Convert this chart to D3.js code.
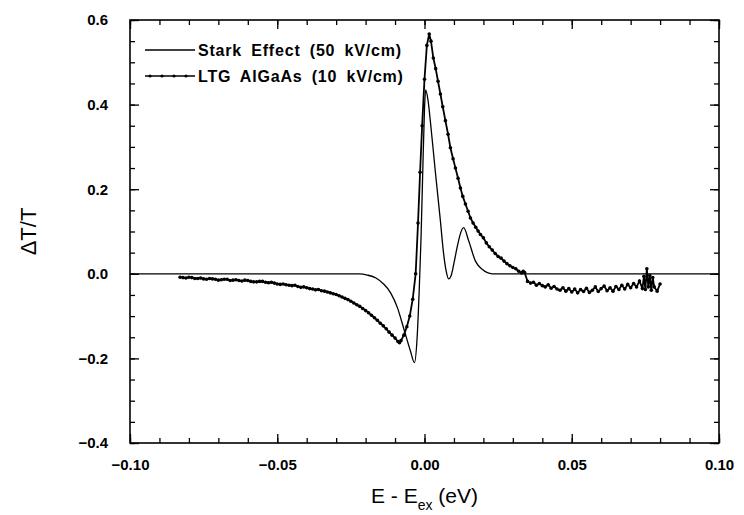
<!DOCTYPE html>
<html>
  <head>
    <meta charset="utf-8">
    <title>Delta T/T spectrum</title>
    <script src="https://d3js.org/d3.v7.min.js"></script>
    <style>
      body { margin: 0; background: #fff; }
      text { font-family: "Liberation Sans", Arial, sans-serif; fill: #000; }
      .tick-label { font-weight: bold; font-size: 15px; }
    </style>
  </head>
  <body>
    <div id="vis"></div>
    <script>
      // Stark effect (50 kV/cm), thin line
      const starkX = [-0.100, -0.030, -0.022, -0.0194, -0.0165, -0.0139, -0.0115, -0.0092, -0.0071, -0.0048,
                      -0.0034, -0.0025, -0.0018, -0.0012, -0.0006, 0.0000, 0.0004, 0.0012, 0.0020, 0.0037,
                      0.0054, 0.0065, 0.0074, 0.0082, 0.0090, 0.0100, 0.0110, 0.0122, 0.0133, 0.0150,
                      0.0173, 0.0197, 0.0230, 0.100];
      const starkY = [0, 0, 0, -0.003, -0.010, -0.024, -0.045, -0.080, -0.128, -0.182,
                      -0.210, -0.150, -0.040, 0.080, 0.240, 0.390, 0.435, 0.410, 0.360, 0.240,
                      0.125, 0.047, 0.005, -0.012, -0.005, 0.025, 0.060, 0.095, 0.109, 0.078,
                      0.030, 0.010, 0, 0];

      // LTG AlGaAs (10 kV/cm), line with dots
      const ltgX = [-0.083, -0.082, -0.081, -0.080, -0.079, -0.078, -0.077, -0.076, -0.075, -0.074,
                    -0.073, -0.072, -0.071, -0.070, -0.069, -0.068, -0.067, -0.066, -0.065, -0.064,
                    -0.063, -0.062, -0.061, -0.060, -0.059, -0.058, -0.057, -0.056, -0.055, -0.054,
                    -0.053, -0.052, -0.051, -0.050, -0.049, -0.048, -0.047, -0.046, -0.045, -0.044,
                    -0.043, -0.042, -0.041, -0.040, -0.039, -0.038, -0.037, -0.036, -0.035, -0.034,
                    -0.033, -0.032, -0.031, -0.030, -0.029, -0.028, -0.027, -0.026, -0.025, -0.024,
                    -0.023, -0.022, -0.021, -0.020, -0.019, -0.018, -0.017, -0.016, -0.015, -0.014,
                    -0.013, -0.012, -0.011, -0.010, -0.009, -0.0085,
                    -0.008, -0.007, -0.006, -0.005, -0.004, -0.003, -0.0022, -0.0015, -0.0008, 0.0000,
                    0.0008, 0.0016, 0.0022, 0.0030, 0.0038, 0.0046, 0.0054, 0.0062, 0.0071, 0.0080,
                    0.0088, 0.0097, 0.0105, 0.0114, 0.0122, 0.0130, 0.0139, 0.0148, 0.0156, 0.0165,
                    0.0174, 0.0182, 0.0190, 0.0200, 0.0210, 0.0220, 0.0230, 0.0240, 0.0250, 0.0260,
                    0.0270, 0.0280, 0.0290, 0.0300, 0.0310, 0.0320, 0.0330, 0.0335, 0.0340, 0.0350,
                    0.0360, 0.037, 0.038, 0.039, 0.040, 0.041, 0.042, 0.043, 0.044, 0.045,
                    0.046, 0.047, 0.048, 0.049, 0.050, 0.051, 0.052, 0.053, 0.054, 0.055,
                    0.056, 0.057, 0.058, 0.059, 0.060, 0.061, 0.062, 0.063, 0.064, 0.065,
                    0.066, 0.067, 0.068, 0.069, 0.070, 0.071, 0.072, 0.073, 0.074, 0.0745,
                    0.075, 0.0755, 0.076, 0.0765, 0.077, 0.0775, 0.078, 0.079, 0.080];
      const ltgY = [-0.008, -0.009, -0.010, -0.008, -0.009, -0.011, -0.011, -0.010, -0.012, -0.013,
                    -0.011, -0.012, -0.013, -0.015, -0.014, -0.013, -0.013, -0.016, -0.015, -0.014,
                    -0.016, -0.017, -0.015, -0.016, -0.018, -0.019, -0.019, -0.018, -0.018, -0.020,
                    -0.021, -0.020, -0.022, -0.024, -0.025, -0.024, -0.026, -0.027, -0.028, -0.027,
                    -0.030, -0.032, -0.031, -0.033, -0.035, -0.036, -0.038, -0.037, -0.040, -0.041,
                    -0.043, -0.045, -0.047, -0.049, -0.052, -0.055, -0.058, -0.061, -0.065, -0.069,
                    -0.073, -0.077, -0.082, -0.087, -0.092, -0.098, -0.104, -0.110, -0.117, -0.123,
                    -0.130, -0.138, -0.145, -0.152, -0.160, -0.163,
                    -0.158, -0.145, -0.125, -0.100, -0.060, 0.000, 0.120, 0.240, 0.350, 0.460,
                    0.540, 0.567, 0.550, 0.510, 0.485, 0.455, 0.425, 0.395, 0.362, 0.330,
                    0.298, 0.272, 0.250, 0.226, 0.203, 0.183, 0.165, 0.148, 0.132, 0.120,
                    0.110, 0.101, 0.093, 0.085, 0.073, 0.064, 0.056, 0.048, 0.041, 0.037,
                    0.030, 0.024, 0.019, 0.015, 0.012, 0.006, 0.002, 0.006, 0.003, -0.018,
                    -0.022, -0.020, -0.027, -0.023, -0.028, -0.031, -0.026, -0.034, -0.030, -0.036,
                    -0.039, -0.033, -0.041, -0.035, -0.043, -0.036, -0.045, -0.037, -0.042, -0.034,
                    -0.044, -0.039, -0.031, -0.042, -0.035, -0.029, -0.040, -0.033, -0.041, -0.030,
                    -0.037, -0.027, -0.036, -0.025, -0.033, -0.023, -0.031, -0.017, -0.035, -0.006,
                    -0.037, 0.012, -0.031, -0.004, -0.039, -0.009, -0.031, -0.041, -0.024];

      const xTicks = [-0.10, -0.05, 0.00, 0.05, 0.10];
      const yTicks = [-0.4, -0.2, 0.0, 0.2, 0.4, 0.6];
      const legendLabels = ["Stark Effect (50 kV/cm)", "LTG AlGaAs (10 kV/cm)"];

      const width = 744;
      const height = 515;
      const margin = {top: 20, right: 25, bottom: 72, left: 130};

      const svg = d3.select("#vis")
                    .append("svg")
                    .attr("width", width)
                    .attr("height", height);

      const x = d3.scaleLinear()
                  .domain([-0.10, 0.10])
                  .range([margin.left, width - margin.right]);

      const y = d3.scaleLinear()
                  .domain([-0.4, 0.6])
                  .range([height - margin.bottom, margin.top]);

      // minor ticks
      const xMinor = d3.range(-10, 11).map(d => d / 100);
      const yMinor = d3.range(-8, 13).map(d => d / 20);

      function styleAxis(g) {
        g.select(".domain").remove();
        g.selectAll("line").attr("stroke", "#000").attr("stroke-width", 1.3);
      }

      // minor ticks on all four sides (inward)
      svg.append("g").attr("transform", `translate(0,${y(-0.4)})`)
         .call(d3.axisBottom(x).tickValues(xMinor).tickSize(-5).tickFormat(""))
         .call(styleAxis);
      svg.append("g").attr("transform", `translate(0,${y(0.6)})`)
         .call(d3.axisTop(x).tickValues(xMinor).tickSize(-5).tickFormat(""))
         .call(styleAxis);
      svg.append("g").attr("transform", `translate(${x(-0.10)},0)`)
         .call(d3.axisLeft(y).tickValues(yMinor).tickSize(-5).tickFormat(""))
         .call(styleAxis);
      svg.append("g").attr("transform", `translate(${x(0.10)},0)`)
         .call(d3.axisRight(y).tickValues(yMinor).tickSize(-5).tickFormat(""))
         .call(styleAxis);

      // major ticks with labels
      const xAxis = svg.append("g").attr("transform", `translate(0,${y(-0.4)})`)
         .call(d3.axisBottom(x).tickValues(xTicks).tickSize(-9).tickPadding(25).tickFormat(d3.format(".2f")))
         .call(styleAxis);
      xAxis.selectAll("text").attr("class", "tick-label").attr("dy", "0.1em");

      svg.append("g").attr("transform", `translate(0,${y(0.6)})`)
         .call(d3.axisTop(x).tickValues(xTicks).tickSize(-9).tickFormat(""))
         .call(styleAxis);

      const yAxis = svg.append("g").attr("transform", `translate(${x(-0.10)},0)`)
         .call(d3.axisLeft(y).tickValues(yTicks).tickSize(-9).tickPadding(22).tickFormat(d3.format(".1f")))
         .call(styleAxis);
      yAxis.selectAll("text").attr("class", "tick-label");

      svg.append("g").attr("transform", `translate(${x(0.10)},0)`)
         .call(d3.axisRight(y).tickValues(yTicks).tickSize(-9).tickFormat(""))
         .call(styleAxis);

      // frame
      svg.append("rect")
         .attr("x", x(-0.10))
         .attr("y", y(0.6))
         .attr("width", x(0.10) - x(-0.10))
         .attr("height", y(-0.4) - y(0.6))
         .attr("fill", "none")
         .attr("stroke", "#000")
         .attr("stroke-width", 1.6);

      const stark = starkX.map((d, i) => [d, starkY[i]]);
      const ltg = ltgX.map((d, i) => [d, ltgY[i]]);

      svg.append("path")
         .datum(stark)
         .attr("d", d3.line().x(d => x(d[0])).y(d => y(d[1])).curve(d3.curveMonotoneX))
         .attr("fill", "none")
         .attr("stroke", "#000")
         .attr("stroke-width", 1.3);

      svg.append("path")
         .datum(ltg)
         .attr("d", d3.line().x(d => x(d[0])).y(d => y(d[1])))
         .attr("fill", "none")
         .attr("stroke", "#000")
         .attr("stroke-width", 1.8);

      svg.append("g")
         .selectAll("circle")
         .data(ltg)
         .enter()
         .append("circle")
         .attr("cx", d => x(d[0]))
         .attr("cy", d => y(d[1]))
         .attr("r", 1.8)
         .attr("fill", "#000");

      // legend
      const legend = svg.append("g");
      legendLabels.forEach(function(label, i) {
        const ly = 50 + i * 26;
        legend.append("line")
              .attr("x1", 145).attr("x2", 195)
              .attr("y1", ly).attr("y2", ly)
              .attr("stroke", "#000")
              .attr("stroke-width", i === 0 ? 1.5 : 1.3);
        if (i === 1) {
          [150, 162, 174, 186].forEach(function(cx) {
            legend.append("circle").attr("cx", cx).attr("cy", ly).attr("r", 1.6).attr("fill", "#000");
          });
        }
        legend.append("text")
              .attr("x", 198)
              .attr("y", ly + 6)
              .attr("font-weight", "bold")
              .attr("font-size", "16px")
              .attr("letter-spacing", "0.8px")
              .attr("word-spacing", "4px")
              .text(label);
      });

      // axis titles
      const xTitle = svg.append("text")
         .attr("x", x(0.0))
         .attr("y", 503)
         .attr("text-anchor", "middle")
         .attr("font-size", "21px");
      xTitle.append("tspan").text("E - E");
      xTitle.append("tspan").attr("font-size", "14px").attr("dy", "7").text("ex");
      xTitle.append("tspan").attr("dy", "-7").text(" (eV)");

      svg.append("text")
         .attr("transform", `translate(36,${y(0.1)}) rotate(-90)`)
         .attr("text-anchor", "middle")
         .attr("font-size", "22px")
         .text("ΔT/T");
    </script>
  </body>
</html>
